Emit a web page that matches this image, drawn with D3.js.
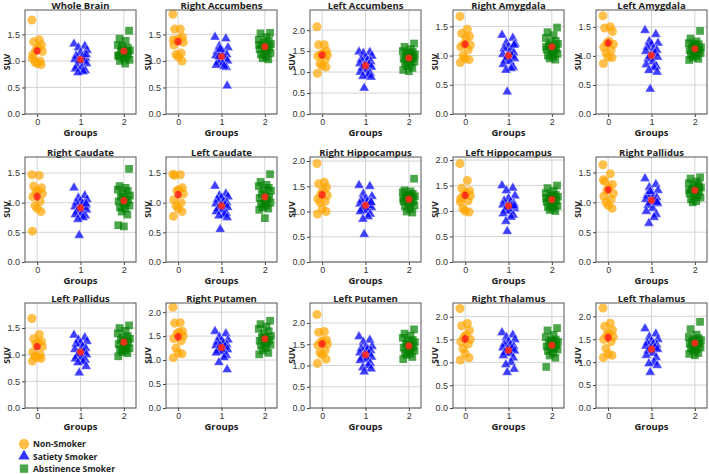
<!DOCTYPE html>
<html>
<head>
<meta charset="utf-8">
<script src="https://cdn.jsdelivr.net/npm/d3@7"></script>
<style>
  body { margin: 0; background: #fff; }
  svg { display: block; }
</style>
</head>
<body>
<div id="chart"></div>
<script>
// regions, one panel each (read left to right, top to bottom)
var regions = ["Whole Brain", "Right Accumbens", "Left Accumbens", "Right Amygdala", "Left Amygdala",
  "Right Caudate", "Left Caudate", "Right Hippocampus", "Left Hippocampus", "Right Pallidus",
  "Left Pallidus", "Right Putamen", "Left Putamen", "Right Thalamus", "Left Thalamus"];

var groups = ["Non-Smoker", "Satiety Smoker", "Abstinence Smoker"];
var groupTicks = [0, 1, 2];

// upper y limit of each panel
var yMax = [1.96, 1.96, 2.48, 1.78, 1.79, 1.77, 1.77, 2.08, 2.06, 1.76, 1.97, 2.19, 2.47, 2.3, 2.29];

// strip jitter (in group units)
var jitterNS = [-0.12, 0.05, -0.08, 0.1, 0.02, -0.03, 0.12, -0.1, 0.07, -0.05, 0.0, 0.09, -0.11];
var jitterSat = [-0.15, 0.1, -0.05, 0.15, 0.0, -0.1, 0.05, 0.12, -0.13, 0.08, -0.02, 0.14, -0.08, 0.03, -0.12, 0.11, 0.06, -0.06, 0.13, -0.03];
var jitterAbs = [0.12, -0.1, 0.04, -0.14, 0.09, -0.03, 0.14, -0.07, 0.02, 0.1, -0.12, 0.06, -0.01, 0.13, -0.09, 0.03, -0.05, 0.08, -0.13, 0.0];

// SUV values, one row per region
var nonSmoker = [
  [1.77, 1.40, 1.36, 1.30, 1.25, 1.20, 1.18, 1.12, 1.00, 0.98, 0.95, 0.93, 1.05],
  [1.88, 1.60, 1.60, 1.45, 1.42, 1.38, 1.35, 1.30, 1.15, 1.12, 1.08, 1.00, 1.40],
  [2.08, 1.65, 1.65, 1.50, 1.45, 1.42, 1.40, 1.38, 1.30, 1.20, 1.15, 1.12, 0.97],
  [1.67, 1.45, 1.38, 1.33, 1.30, 1.20, 1.18, 1.15, 1.10, 1.00, 0.95, 0.93, 0.88],
  [1.69, 1.50, 1.48, 1.42, 1.25, 1.22, 1.20, 1.15, 1.10, 1.05, 0.98, 0.97, 0.87],
  [1.47, 1.46, 1.28, 1.25, 1.20, 1.18, 1.15, 1.10, 1.02, 0.95, 0.90, 0.85, 0.52],
  [1.48, 1.47, 1.46, 1.25, 1.22, 1.20, 1.15, 1.05, 1.00, 0.95, 0.90, 0.85, 0.77],
  [1.95, 1.58, 1.55, 1.48, 1.42, 1.35, 1.32, 1.25, 1.20, 1.18, 1.05, 1.00, 0.95],
  [1.93, 1.60, 1.45, 1.40, 1.35, 1.32, 1.30, 1.25, 1.20, 1.05, 1.00, 0.98, 1.18],
  [1.63, 1.48, 1.35, 1.30, 1.25, 1.20, 1.15, 1.10, 1.05, 1.00, 0.95, 0.90, 1.38],
  [1.68, 1.38, 1.30, 1.25, 1.22, 1.20, 1.15, 1.05, 1.00, 0.97, 0.95, 0.93, 0.88],
  [2.10, 1.78, 1.77, 1.60, 1.58, 1.55, 1.50, 1.45, 1.40, 1.25, 1.15, 1.13, 1.05],
  [2.20, 1.80, 1.78, 1.60, 1.58, 1.55, 1.50, 1.48, 1.35, 1.30, 1.25, 1.15, 1.05],
  [2.18, 1.85, 1.80, 1.70, 1.60, 1.55, 1.50, 1.45, 1.40, 1.30, 1.20, 1.10, 1.05],
  [2.18, 1.85, 1.78, 1.70, 1.62, 1.60, 1.55, 1.50, 1.45, 1.30, 1.18, 1.15, 1.10]
];

var satiety = [
  [1.32, 1.28, 1.25, 1.20, 1.15, 1.10, 1.08, 1.05, 1.03, 1.00, 0.98, 0.95, 0.90, 0.88, 0.85, 0.82, 0.80, 0.78, 1.12, 1.00],
  [1.45, 1.42, 1.28, 1.25, 1.20, 1.18, 1.15, 1.12, 1.10, 1.05, 1.02, 1.00, 0.98, 0.95, 0.92, 0.88, 0.90, 1.08, 0.53, 1.22],
  [1.48, 1.47, 1.45, 1.38, 1.35, 1.30, 1.28, 1.25, 1.20, 1.18, 1.15, 1.12, 1.10, 1.05, 1.00, 0.97, 0.93, 0.90, 0.88, 0.62],
  [1.35, 1.30, 1.22, 1.20, 1.15, 1.12, 1.10, 1.05, 1.02, 1.00, 0.98, 0.95, 0.92, 0.90, 0.85, 0.80, 0.78, 0.75, 1.18, 0.38],
  [1.44, 1.37, 1.25, 1.22, 1.20, 1.15, 1.12, 1.10, 1.08, 1.05, 1.00, 0.98, 0.95, 0.90, 0.85, 0.82, 0.80, 0.75, 0.72, 0.43],
  [1.25, 1.12, 1.08, 1.05, 1.02, 1.00, 0.98, 0.95, 0.93, 0.92, 0.90, 0.88, 0.85, 0.82, 0.80, 0.78, 0.75, 0.72, 0.98, 0.45],
  [1.28, 1.15, 1.12, 1.10, 1.08, 1.05, 1.02, 1.00, 0.98, 0.96, 0.95, 0.92, 0.90, 0.88, 0.85, 0.82, 0.80, 0.78, 0.75, 0.55],
  [1.52, 1.50, 1.35, 1.30, 1.25, 1.22, 1.20, 1.18, 1.15, 1.12, 1.10, 1.08, 1.05, 1.02, 1.00, 0.95, 0.90, 0.85, 1.18, 0.55],
  [1.50, 1.45, 1.40, 1.30, 1.25, 1.20, 1.18, 1.15, 1.12, 1.10, 1.08, 1.05, 1.02, 1.00, 0.95, 0.92, 0.88, 0.80, 1.10, 0.60],
  [1.40, 1.30, 1.25, 1.20, 1.15, 1.12, 1.10, 1.08, 1.05, 1.02, 1.00, 0.98, 0.95, 0.90, 0.85, 0.80, 0.75, 0.65, 1.00, 1.18],
  [1.37, 1.32, 1.28, 1.25, 1.22, 1.20, 1.15, 1.12, 1.10, 1.05, 1.02, 1.00, 0.97, 0.95, 0.92, 0.90, 0.87, 0.85, 0.78, 0.66],
  [1.60, 1.55, 1.48, 1.42, 1.40, 1.38, 1.35, 1.32, 1.30, 1.28, 1.25, 1.22, 1.20, 1.18, 1.15, 1.10, 1.05, 0.95, 0.80, 1.30],
  [1.68, 1.60, 1.55, 1.45, 1.42, 1.40, 1.38, 1.35, 1.30, 1.28, 1.25, 1.20, 1.18, 1.15, 1.12, 1.05, 1.00, 0.95, 0.92, 0.85],
  [1.65, 1.60, 1.55, 1.50, 1.45, 1.40, 1.38, 1.35, 1.32, 1.30, 1.28, 1.25, 1.22, 1.20, 1.15, 1.10, 1.00, 0.95, 0.85, 0.78],
  [1.73, 1.62, 1.55, 1.50, 1.45, 1.42, 1.40, 1.38, 1.35, 1.32, 1.30, 1.28, 1.25, 1.20, 1.15, 1.10, 1.00, 0.97, 0.93, 0.78]
];

var abstinence = [
  [1.57, 1.42, 1.38, 1.30, 1.25, 1.22, 1.20, 1.18, 1.15, 1.12, 1.10, 1.08, 1.05, 1.02, 1.00, 0.95, 1.28, 1.18, 1.10, 1.14],
  [1.53, 1.52, 1.45, 1.40, 1.38, 1.35, 1.32, 1.30, 1.28, 1.25, 1.22, 1.20, 1.18, 1.15, 1.12, 1.08, 1.05, 1.03, 1.30, 1.25],
  [1.68, 1.60, 1.55, 1.50, 1.48, 1.45, 1.42, 1.40, 1.38, 1.35, 1.32, 1.30, 1.28, 1.25, 1.22, 1.20, 1.15, 1.10, 1.05, 1.02],
  [1.48, 1.40, 1.35, 1.30, 1.25, 1.22, 1.20, 1.18, 1.15, 1.12, 1.10, 1.08, 1.05, 1.03, 1.00, 0.98, 0.95, 0.93, 1.15, 1.10],
  [1.43, 1.30, 1.25, 1.22, 1.20, 1.18, 1.15, 1.15, 1.12, 1.10, 1.10, 1.08, 1.05, 1.05, 1.02, 1.00, 0.97, 0.95, 0.93, 1.20],
  [1.57, 1.28, 1.25, 1.22, 1.20, 1.15, 1.12, 1.10, 1.08, 1.05, 1.02, 1.00, 0.98, 0.95, 0.92, 0.90, 0.85, 0.80, 0.62, 0.60],
  [1.48, 1.35, 1.30, 1.28, 1.25, 1.22, 1.20, 1.15, 1.12, 1.10, 1.08, 1.05, 1.02, 1.00, 0.98, 0.95, 0.92, 0.90, 0.88, 0.74],
  [1.65, 1.42, 1.40, 1.38, 1.35, 1.32, 1.30, 1.28, 1.25, 1.22, 1.20, 1.18, 1.15, 1.12, 1.10, 1.05, 1.00, 0.98, 1.25, 1.30],
  [1.50, 1.45, 1.40, 1.35, 1.32, 1.30, 1.28, 1.25, 1.22, 1.20, 1.18, 1.15, 1.12, 1.10, 1.08, 1.05, 1.02, 1.00, 1.25, 1.30],
  [1.42, 1.40, 1.35, 1.32, 1.30, 1.28, 1.25, 1.22, 1.20, 1.18, 1.15, 1.12, 1.10, 1.08, 1.05, 1.02, 1.00, 1.25, 1.20, 1.15],
  [1.55, 1.50, 1.45, 1.40, 1.35, 1.32, 1.30, 1.28, 1.25, 1.22, 1.20, 1.18, 1.15, 1.12, 1.10, 1.08, 1.05, 1.03, 0.97, 1.20],
  [1.82, 1.75, 1.70, 1.65, 1.60, 1.55, 1.50, 1.48, 1.45, 1.42, 1.40, 1.38, 1.35, 1.32, 1.30, 1.25, 1.20, 1.15, 1.12, 1.45],
  [1.85, 1.75, 1.70, 1.65, 1.60, 1.58, 1.55, 1.50, 1.48, 1.45, 1.42, 1.40, 1.38, 1.35, 1.30, 1.28, 1.25, 1.20, 1.15, 1.40],
  [1.75, 1.70, 1.60, 1.55, 1.50, 1.48, 1.45, 1.42, 1.40, 1.38, 1.35, 1.32, 1.30, 1.28, 1.25, 1.20, 1.15, 1.10, 0.90, 1.45],
  [1.88, 1.72, 1.60, 1.55, 1.52, 1.50, 1.48, 1.45, 1.42, 1.40, 1.40, 1.38, 1.35, 1.32, 1.30, 1.28, 1.25, 1.20, 1.18, 1.15]
];

var W = 709, H = 474;
var colLeft = [25, 166, 310, 453, 596];
var rowTop = [10, 157, 303];
var pw = 111, ph = 105;

var colors = ["#ffa500", "#0000ff", "#008000"];

var svg = d3.select("#chart").append("svg")
  .attr("width", W)
  .attr("height", H)
  .style("font-family", "'DejaVu Sans', sans-serif");

var x = d3.scaleLinear().domain([-0.28, 2.28]).range([0, pw]);

var circle = d3.symbol().type(d3.symbolCircle).size(64);
var triangle = d3.symbol().type(d3.symbolTriangle).size(44);
var square = d3.symbol().type(d3.symbolSquare).size(60);
var shapes = [circle, triangle, square];

regions.forEach(function(name, i) {
  var col = i % 5, row = Math.floor(i / 5);
  var g = svg.append("g")
    .attr("transform", "translate(" + colLeft[col] + "," + rowTop[row] + ")");

  var h = ph - (row === 0 ? 1 : 0);
  var y = d3.scaleLinear().domain([0, yMax[i]]).range([h, 0]);
  var yticks = d3.range(0, yMax[i] + 0.001, 0.5);

  // grid
  g.append("g").selectAll("line.gy")
    .data(yticks).enter().append("line")
    .attr("x1", 0).attr("x2", pw)
    .attr("y1", function(d) { return y(d); })
    .attr("y2", function(d) { return y(d); })
    .attr("stroke", "#d4d4d4").attr("stroke-width", 1);
  g.append("g").selectAll("line.gx")
    .data(groupTicks).enter().append("line")
    .attr("y1", 0).attr("y2", h)
    .attr("x1", function(d) { return x(d); })
    .attr("x2", function(d) { return x(d); })
    .attr("stroke", "#d4d4d4").attr("stroke-width", 1);

  // axes
  var ya = g.append("g")
    .call(d3.axisLeft(y).tickValues(yticks).tickSize(3).tickPadding(2).tickFormat(d3.format(".1f")));
  var xa = g.append("g")
    .attr("transform", "translate(0," + h + ")")
    .call(d3.axisBottom(x).tickValues(groupTicks).tickSize(3).tickPadding(2).tickFormat(d3.format("d")));
  [ya, xa].forEach(function(a) {
    a.select(".domain").remove();
    a.selectAll("line").attr("stroke", "#444");
    a.selectAll("text").attr("fill", "#333").style("font-size", "9px");
  });

  // points
  var sets = [nonSmoker[i], satiety[i], abstinence[i]];
  var jit = [jitterNS, jitterSat, jitterAbs];
  sets.forEach(function(vals, k) {
    g.append("g").selectAll("path")
      .data(vals).enter().append("path")
      .attr("d", shapes[k])
      .attr("transform", function(d, j) {
        return "translate(" + x(k + jit[k][j]) + "," + y(d) + ")";
      })
      .attr("fill", colors[k])
      .attr("fill-opacity", k === 1 ? 0.75 : 0.7)
      .attr("stroke", k === 1 ? "#ffffff" : "none")
      .attr("stroke-width", 0.4);
  });

  // group means with standard error
  sets.forEach(function(vals, k) {
    var m = d3.mean(vals);
    var se = d3.deviation(vals) / Math.sqrt(vals.length);
    g.append("line")
      .attr("x1", x(k)).attr("x2", x(k))
      .attr("y1", y(m - se)).attr("y2", y(m + se))
      .attr("stroke", "#ff2a1a").attr("stroke-width", 2).attr("stroke-opacity", 0.85);
    g.append("circle")
      .attr("cx", x(k)).attr("cy", y(m)).attr("r", 3.6)
      .attr("fill", "#ff2a1a").attr("fill-opacity", 0.85);
  });

  // frame
  g.append("rect")
    .attr("width", pw).attr("height", h)
    .attr("fill", "none").attr("stroke", "#555").attr("stroke-width", 1);

  g.append("text")
    .attr("x", pw / 2).attr("y", -1.5)
    .attr("text-anchor", "middle")
    .style("font-family", "'Open Sans', sans-serif")
    .style("font-weight", "bold").style("font-size", "9.5px")
    .attr("fill", "#222")
    .text(name);

  g.append("text")
    .attr("x", pw / 2).attr("y", h + 22)
    .attr("text-anchor", "middle")
    .style("font-family", "'Open Sans', sans-serif")
    .style("font-weight", "bold").style("font-size", "9.5px")
    .attr("fill", "#222")
    .text("Groups");

  g.append("text")
    .attr("transform", "translate(-15.5," + (h / 2) + ") rotate(-90)")
    .attr("text-anchor", "middle")
    .style("font-family", "'Open Sans', sans-serif")
    .style("font-weight", "bold").style("font-size", "8.5px")
    .attr("fill", "#222")
    .text("SUV");
});

// legend
var legend = svg.append("g").attr("transform", "translate(24,444)");
var legendShapes = [
  d3.symbol().type(d3.symbolCircle).size(85),
  d3.symbol().type(d3.symbolTriangle).size(55),
  d3.symbol().type(d3.symbolSquare).size(70)
];
groups.forEach(function(gname, k) {
  var row = legend.append("g").attr("transform", "translate(0," + (k * 12.3) + ")");
  row.append("path")
    .attr("d", legendShapes[k])
    .attr("fill", colors[k])
    .attr("fill-opacity", k === 1 ? 0.8 : 0.7);
  row.append("text")
    .attr("x", 9).attr("y", 3.2)
    .style("font-family", "'Open Sans', sans-serif")
    .style("font-weight", "bold").style("font-size", "8.5px")
    .attr("fill", "#222")
    .text(gname);
});
</script>
</body>
</html>
